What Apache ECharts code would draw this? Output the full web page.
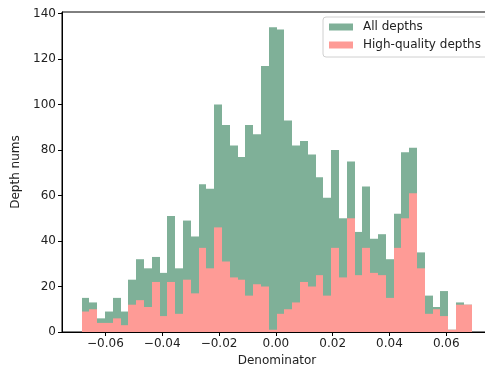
<!DOCTYPE html>
<html>
<head>
<meta charset="utf-8">
<script src="https://cdn.jsdelivr.net/npm/echarts@6/dist/echarts.min.js"></script>
<style>html,body{margin:0;padding:0;background:#fff;}#c{width:485px;height:368px;}</style>
</head>
<body>
<div id="c"></div>
<script>
// Histogram definition (50 equal bins)
const binLo = -0.06837;
const binHi = 0.06894;
const binCount = 50;
const seriesNames = ["All depths", "High-quality depths"];
const allDepths = [15, 13, 6, 9, 15, 9, 23, 32, 28, 33,
                   26, 51, 28, 49, 42, 65, 63, 100, 91, 82,
                   77, 91, 87, 117, 134, 133, 93, 82, 84, 78,
                   68, 59, 80, 50, 75, 44, 64, 41, 43, 32,
                   52, 79, 81, 35, 16, 11, 18, 1, 13, 12];
const highQuality = [9, 10, 4, 4, 6, 3, 12, 14, 11, 22,
                     7, 22, 8, 23, 17, 37, 28, 46, 31, 24,
                     23, 16, 21, 20, 1, 8, 10, 13, 22, 20,
                     25, 16, 37, 24, 50, 25, 37, 26, 25, 15,
                     37, 50, 61, 28, 8, 10, 7, 1, 12, 12];
const xTicks = [-0.06, -0.04, -0.02, 0.00, 0.02, 0.04, 0.06];
const yTicks = [0, 20, 40, 60, 80, 100, 120, 140];

const binW = (binHi - binLo) / binCount;
function toBins(vals) {
  return vals.map((v, i) => [binLo + i * binW, binLo + (i + 1) * binW, v]);
}
function renderBar(params, api) {
  const p0 = api.coord([api.value(0), api.value(2)]);
  const p1 = api.coord([api.value(1), 0]);
  const x0 = Math.round(p0[0]), x1 = Math.round(p1[0]);
  return {
    type: 'rect',
    shape: { x: x0, y: p0[1], width: x1 - x0, height: p1[1] - p0[1] },
    style: { fill: api.visual('color') }
  };
}
const colors = ['#7fb098', '#fe9b96'];
const font = 'DejaVu Sans';
const chart = echarts.init(document.getElementById('c'));
chart.setOption({
  animation: false,
  backgroundColor: '#fff',
  grid: { left: 62, top: 12, width: 430, height: 320, show: true, borderColor: '#000', borderWidth: 1, containLabel: false, outerBoundsMode: 'none' },
  xAxis: {
    type: 'value', min: -0.0753, max: 0.0761,
    name: 'Denominator', nameLocation: 'middle', nameGap: 23,
    nameTextStyle: { fontFamily: font, fontSize: 12, color: '#222' },
    axisLine: { show: true, onZero: false, lineStyle: { color: '#000', width: 1 } },
    axisTick: { show: true, length: 4, customValues: xTicks, lineStyle: { color: '#000' } },
    axisLabel: { customValues: xTicks, margin: 6, fontFamily: font, fontSize: 12, color: '#222',
      formatter: v => (v < 0 ? '\u2212' : '') + Math.abs(v).toFixed(2) },
    splitLine: { show: false }
  },
  yAxis: {
    type: 'value', min: 0, max: 140.7,
    name: 'Depth nums', nameLocation: 'middle', nameGap: 34,
    nameTextStyle: { fontFamily: font, fontSize: 12, color: '#222' },
    axisLine: { show: true, onZero: false, lineStyle: { color: '#000', width: 1 } },
    axisTick: { show: true, length: 4, customValues: yTicks, lineStyle: { color: '#000' } },
    axisLabel: { customValues: yTicks, margin: 6, fontFamily: font, fontSize: 12, color: '#222' },
    splitLine: { show: false }
  },
  legend: {
    orient: 'vertical', left: 323, top: 17,
    data: seriesNames.map(n => ({ name: n, icon: 'rect' })),
    itemWidth: 24, itemHeight: 7, itemGap: 4,
    padding: [3, 8, 5, 6],
    borderColor: '#d0d0d0', borderWidth: 1, borderRadius: 3, backgroundColor: 'rgba(255,255,255,0.8)',
    textStyle: { fontFamily: font, fontSize: 12, color: '#222', padding: [0, 0, 0, 5], lineHeight: 14 }
  },
  series: [
    { name: seriesNames[0], type: 'custom', renderItem: renderBar, encode: { x: [0, 1], y: 2 },
      itemStyle: { color: colors[0] }, data: toBins(allDepths), z: 2 },
    { name: seriesNames[1], type: 'custom', renderItem: renderBar, encode: { x: [0, 1], y: 2 },
      itemStyle: { color: colors[1] }, data: toBins(highQuality), z: 3 }
  ]
});
</script>
</body>
</html>
